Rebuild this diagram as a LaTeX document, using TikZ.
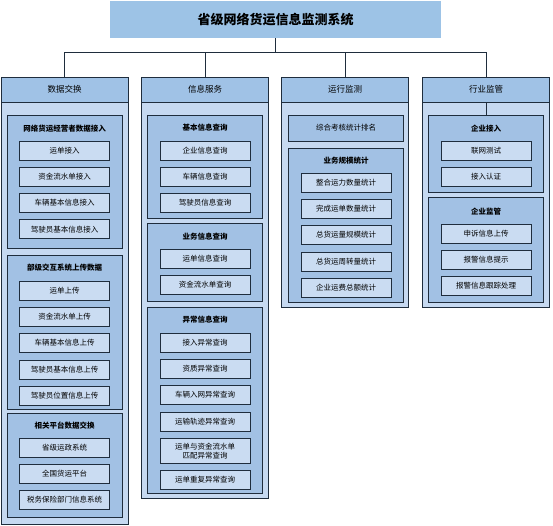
\documentclass[tikz,border=0pt]{standalone}
\usepackage{fontspec}
\setmainfont{Noto Sans CJK SC}
\usepackage{xcolor}
\usetikzlibrary{positioning}
\definecolor{topblue}{HTML}{9DC3E6}
\definecolor{headblue}{HTML}{A0C2E6}
\definecolor{bodyblue}{HTML}{C6D9F1}
\definecolor{groupblue}{HTML}{A2C1E4}
\definecolor{leafblue}{HTML}{CADCF2}
\definecolor{edge}{HTML}{1F2D3D}

\begin{document}
\begin{tikzpicture}[x=1pt, y=-1pt, node distance=6.5pt, line width=0.8pt]
  % Styles
  \tikzstyle{title} = [fill=topblue, inner sep=0pt, minimum width=331pt, minimum height=37pt, font=\bfseries\fontsize{13}{15}\selectfont]
  \tikzstyle{head} = [draw=edge, fill=headblue, inner sep=0pt, minimum width=127pt, minimum height=25pt, font=\fontsize{8.5}{10}\selectfont]
  \tikzstyle{colbody} = [draw=edge, fill=bodyblue, inner sep=0pt, minimum width=127pt]
  \tikzstyle{group} = [draw=edge, fill=groupblue, inner sep=0pt, minimum width=115pt]
  \tikzstyle{grouptitle} = [inner sep=0pt, font=\bfseries\fontsize{7.5}{9}\selectfont]
  \tikzstyle{leaf} = [draw=edge, fill=leafblue, inner sep=0pt, minimum width=90pt, minimum height=19pt, font=\fontsize{7.5}{9}\selectfont]

  \useasboundingbox (0,0) rectangle (553,526);

  % Top
  \node [title] (top) at (275.5,19.5) {省级网络货运信息监测系统};

  % Column 1
  \node [colbody, minimum height=422pt] (body1) at (64.5,313) {};
  \node [head] (hdr1) at (64.5,89.5) {数据交换};
  \node [group, minimum height=133pt] (grp1a) at (64.5,181.5) {};
  \node [grouptitle] at (64.5,129) {网络货运经营者数据接入};
  \node [leaf] (l1a1) at (64.5,150.5) {运单接入};
  \node [leaf, below=of l1a1] (l1a2) {资金流水单接入};
  \node [leaf, below=of l1a2] (l1a3) {车辆基本信息接入};
  \node [leaf, below=of l1a3] (l1a4) {驾驶员基本信息接入};
  \node [group, minimum height=154pt] (grp1b) at (64.5,332) {};
  \node [grouptitle] at (64.5,268) {部级交互系统上传数据};
  \node [leaf] (l1b1) at (64.5,290.5) {运单上传};
  \node [leaf, below=of l1b1] (l1b2) {资金流水单上传};
  \node [leaf, below=of l1b2] (l1b3) {车辆基本信息上传};
  \node [leaf, below=of l1b3] (l1b4) {驾驶员基本信息上传};
  \node [leaf, below=of l1b4] (l1b5) {驾驶员位置信息上传};
  \node [group, minimum height=104pt] (grp1c) at (64.5,465) {};
  \node [grouptitle] at (64.5,426) {相关平台数据交换};
  \node [leaf] (l1c1) at (64.5,447.5) {省级运政系统};
  \node [leaf, below=of l1c1] (l1c2) {全国货运平台};
  \node [leaf, below=of l1c2] (l1c3) {税务保险部门信息系统};

  % Column 2
  \node [colbody, minimum height=396pt] (body2) at (205,300) {};
  \node [head] (hdr2) at (205,89.5) {信息服务};
  \node [group, minimum height=103pt] (grp2a) at (205,166.5) {};
  \node [grouptitle] at (205,128) {基本信息查询};
  \node [leaf] (l2a1) at (205,150.5) {企业信息查询};
  \node [leaf, below=of l2a1] (l2a2) {车辆信息查询};
  \node [leaf, below=of l2a2] (l2a3) {驾驶员信息查询};
  \node [group, minimum height=78pt] (grp2b) at (205,262) {};
  \node [grouptitle] at (205,237) {业务信息查询};
  \node [leaf] (l2b1) at (205,258.5) {运单信息查询};
  \node [leaf, below=of l2b1] (l2b2) {资金流水单查询};
  \node [group, minimum height=186pt] (grp2c) at (205,400) {};
  \node [grouptitle] at (205,320) {异常信息查询};
  \node [leaf] (l2c1) at (205,342.5) {接入异常查询};
  \node [leaf, below=of l2c1] (l2c2) {资质异常查询};
  \node [leaf, below=of l2c2] (l2c3) {车辆入网异常查询};
  \node [leaf, below=of l2c3] (l2c4) {运输轨迹异常查询};
  \node [leaf, below=of l2c4, minimum height=25pt, align=center] (l2c5) {运单与资金流水单\\匹配异常查询};
  \node [leaf, below=of l2c5] (l2c6) {运单重复异常查询};

  % Column 3
  \node [colbody, minimum height=205pt] (body3) at (345,204.5) {};
  \node [head] (hdr3) at (345,89.5) {运行监测};
  \node [group, minimum height=26pt, font=\fontsize{7.5}{9}\selectfont] (rank) at (346,128) {综合考核统计排名};
  \node [group, minimum height=154pt] (grp3a) at (346,225) {};
  \node [grouptitle] at (346,161) {业务规模统计};
  \node [leaf] (l3a1) at (346,182.5) {整合运力数量统计};
  \node [leaf, below=of l3a1] (l3a2) {完成运单数量统计};
  \node [leaf, below=of l3a2] (l3a3) {总货运量规模统计};
  \node [leaf, below=of l3a3] (l3a4) {总货运周转量统计};
  \node [leaf, below=of l3a4] (l3a5) {企业运费总额统计};

  % Column 4
  \node [colbody, minimum height=205pt] (body4) at (486,204.5) {};
  \node [head] (hdr4) at (486,89.5) {行业监管};
  \node [group, minimum height=77pt] (grp4a) at (486,153.5) {};
  \node [grouptitle] at (486,129) {企业接入};
  \node [leaf] (l4a1) at (486,150.5) {联网测试};
  \node [leaf, below=of l4a1] (l4a2) {接入认证};
  \node [group, minimum height=105pt] (grp4b) at (486,249.5) {};
  \node [grouptitle] at (486,212) {企业监管};
  \node [leaf] (l4b1) at (486,233.5) {申诉信息上传};
  \node [leaf, below=of l4b1] (l4b2) {报警信息提示};
  \node [leaf, below=of l4b2] (l4b3) {报警信息跟踪处理};

  % Connections
  \coordinate (bus) at (275.5,52);
  \draw [edge] (top.south) -- (bus);
  \draw [edge] (bus) -| (hdr1.north);
  \draw [edge] (bus) -| (hdr2.north);
  \draw [edge] (bus) -| (hdr3.north);
  \draw [edge] (bus) -| (hdr4.north);
  \draw [edge] (hdr4.south) -- (grp4a.north);

\end{tikzpicture}
\end{document}
